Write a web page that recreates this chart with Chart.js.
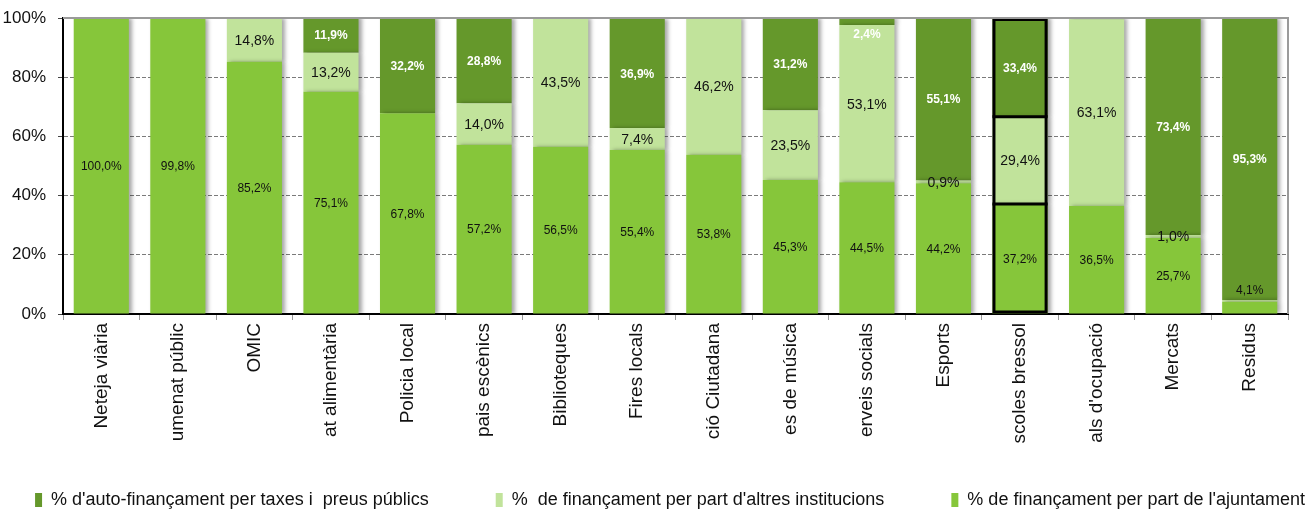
<!DOCTYPE html>
<html>
<head>
<meta charset="utf-8">
<script src="https://cdn.jsdelivr.net/npm/chart.js@4.4.1/dist/chart.umd.min.js"></script>
<style>
html,body{margin:0;padding:0;background:#fff;}
#wrap{width:1307px;height:513px;}
</style>
</head>
<body>
<div id="wrap"><canvas id="c" width="1307" height="513"></canvas></div>
<script>
const categories = ["Neteja viària","umenat públic","OMIC","at alimentària","Policia local","pais escènics","Biblioteques","Fires locals","ció Ciutadana","es de música","erveis socials","Esports","scoles bressol","als d'ocupació","Mercats","Residus"];
const ajuntament = [100.0, 99.8, 85.2, 75.1, 67.8, 57.2, 56.5, 55.4, 53.8, 45.3, 44.5, 44.2, 37.2, 36.5, 25.7, 4.1];
const altres = [0, 0, 14.8, 13.2, 0, 14.0, 43.5, 7.4, 46.2, 23.5, 53.1, 0.9, 29.4, 63.1, 1.0, 0.6];
const autofin = [0, 0.2, 0, 11.9, 32.2, 28.8, 0, 36.9, 0, 31.2, 2.4, 55.1, 33.4, 0.4, 73.4, 95.3];
const seriesNames = ["% de finançament per part de l'ajuntament", "%  de finançament per part d'altres institucions", "% d'auto-finançament per taxes i  preus públics"];
const yTicks = [0, 20, 40, 60, 80, 100];
const highlighted = "scoles bressol";

const FONT = "'Liberation Sans', Arial, sans-serif";
const LEGEND_SIZE = 18;
const LEGEND_PAD = 2;
const legendAdvance = { 2: 459, 1: 451 };
const hiIdx = categories.indexOf(highlighted);

const fmt = v => v.toFixed(1).replace('.', ',') + '%';

const labelPlugin = {
  id: 'segLabels',
  afterDatasetsDraw(chart) {
    const ctx = chart.ctx;
    ctx.save();
    ctx.textAlign = 'center';
    ctx.textBaseline = 'middle';
    const n = chart.data.datasets.length;
    chart.data.datasets.forEach((ds, di) => {
      const meta = chart.getDatasetMeta(di);
      meta.data.forEach((el, i) => {
        const v = ds.data[i];
        if (v < 0.8) return;
        const p = el.getProps(['x', 'y', 'base'], true);
        const top = Math.min(p.y, p.base), bot = Math.max(p.y, p.base);
        let y = (top + bot) / 2;
        const h = bot - top;
        if (di === 0 && h < 16) y = top - 12;
        if (di === n - 1 && h < 16) y = bot + 9;
        if (di === 0) { ctx.font = '12px ' + FONT; ctx.fillStyle = '#111'; }
        else if (di === 1) { ctx.font = '14px ' + FONT; ctx.fillStyle = '#111'; }
        else { ctx.font = 'bold 12px ' + FONT; ctx.fillStyle = '#fff'; }
        ctx.fillText(fmt(v), p.x, y + 1);
      });
    });
    ctx.restore();
  }
};

const shadowPlugin = {
  id: 'barShadow',
  beforeDatasetsDraw(chart) {
    const ctx = chart.ctx;
    ctx.save();
    ctx.shadowColor = 'rgba(0,0,0,0.35)';
    ctx.shadowBlur = 4;
    ctx.shadowOffsetX = 3;
    ctx.shadowOffsetY = 0;
  },
  afterDatasetsDraw(chart) {
    chart.ctx.restore();
  }
};

const highlightPlugin = {
  id: 'highlight',
  afterDatasetsDraw(chart) {
    if (hiIdx < 0) return;
    const ctx = chart.ctx;
    const n = chart.data.datasets.length;
    let left = null, right = null, top = Infinity, bottom = -Infinity;
    const joins = [];
    for (let di = 0; di < n; di++) {
      const v = chart.data.datasets[di].data[hiIdx];
      const el = chart.getDatasetMeta(di).data[hiIdx];
      const p = el.getProps(['x', 'y', 'base', 'width'], true);
      left = p.x - p.width / 2; right = p.x + p.width / 2;
      if (v > 0) {
        top = Math.min(top, p.y);
        bottom = Math.max(bottom, p.base);
        joins.push(p.y);
      }
    }
    joins.pop();
    ctx.save();
    ctx.strokeStyle = '#000';
    ctx.lineWidth = 3;
    ctx.strokeRect(left + 1.5, top + 1.5, right - left - 3, bottom - top - 3);
    joins.forEach(y => {
      ctx.beginPath();
      ctx.moveTo(left, y);
      ctx.lineTo(right, y);
      ctx.stroke();
    });
    ctx.restore();
  }
};

const framePlugin = {
  id: 'frame',
  afterDatasetsDraw(chart) {
    const {ctx, chartArea: a} = chart;
    ctx.save();
    ctx.strokeStyle = '#9a9a9a';
    ctx.lineWidth = 2;
    ctx.beginPath();
    ctx.moveTo(a.left, a.top);
    ctx.lineTo(a.right, a.top);
    ctx.lineTo(a.right, a.bottom);
    ctx.stroke();
    ctx.restore();
  }
};

new Chart(document.getElementById('c'), {
  type: 'bar',
  data: {
    labels: categories,
    datasets: [
      { label: seriesNames[0], data: ajuntament, backgroundColor: '#86C63A', borderWidth: 0, barPercentage: 0.72, categoryPercentage: 1 },
      { label: seriesNames[1], data: altres, backgroundColor: '#C1E39B', borderWidth: 0, barPercentage: 0.72, categoryPercentage: 1 },
      { label: seriesNames[2], data: autofin, backgroundColor: '#65982B', borderWidth: 0, barPercentage: 0.72, categoryPercentage: 1 }
    ]
  },
  options: {
    responsive: false,
    animation: false,
    devicePixelRatio: 1,
    layout: { padding: { left: 0, right: 0, top: 18, bottom: -6 } },
    plugins: {
      tooltip: { enabled: false },
      legend: {
        position: 'bottom',
        align: 'end',
        reverse: true,
        labels: {
          font: { family: FONT, size: LEGEND_SIZE },
          color: '#111',
          boxWidth: 7,
          boxHeight: 14,
          padding: LEGEND_PAD,
          generateLabels(chart) {
            const items = Chart.defaults.plugins.legend.labels.generateLabels(chart);
            const ctx = chart.ctx;
            ctx.save();
            ctx.font = LEGEND_SIZE + 'px ' + FONT;
            items.forEach(it => {
              const target = legendAdvance[it.datasetIndex];
              if (!target) return;
              let guard = 0;
              while (7 + LEGEND_SIZE / 2 + ctx.measureText(it.text).width + LEGEND_PAD < target && guard++ < 60) it.text += ' ';
            });
            ctx.restore();
            return items;
          }
        }
      }
    },
    scales: {
      x: {
        stacked: true,
        grid: { display: true, offset: true, drawOnChartArea: false, drawTicks: true, tickLength: 6, color: '#999' },
        border: { display: true, color: '#000', width: 2 },
        ticks: { font: { family: FONT, size: 19 }, color: '#111', minRotation: 90, maxRotation: 90, autoSkip: false, padding: 3 },
        afterFit(scale) { scale.height = 175; scale.paddingLeft = 0; scale.paddingRight = 0; }
      },
      y: {
        stacked: true,
        min: 0, max: 100,
        afterBuildTicks(scale) { scale.ticks = yTicks.map(v => ({ value: v })); },
        afterFit(scale) { scale.width = 63; scale.paddingTop = 0; scale.paddingBottom = 0; },
        grid: {
          color: c => (c.tick && (c.tick.value === 0 || c.tick.value === 100)) ? 'rgba(0,0,0,0)' : '#7a7a7a',
          tickColor: '#444',
          tickLength: 5,
          lineWidth: 1
        },
        border: { display: true, color: '#000', width: 2, dash: [4, 2] },
        ticks: { font: { family: FONT, size: 17 }, color: '#111', padding: 12, callback: v => v + '%' }
      },
      yRight: {
        position: 'right',
        display: true,
        grid: { display: false, drawTicks: false },
        border: { display: false },
        ticks: { display: false },
        afterFit(scale) { scale.width = 19; scale.paddingTop = 0; scale.paddingBottom = 0; }
      }
    }
  },
  plugins: [shadowPlugin, highlightPlugin, labelPlugin, framePlugin]
});
</script>
</body>
</html>
